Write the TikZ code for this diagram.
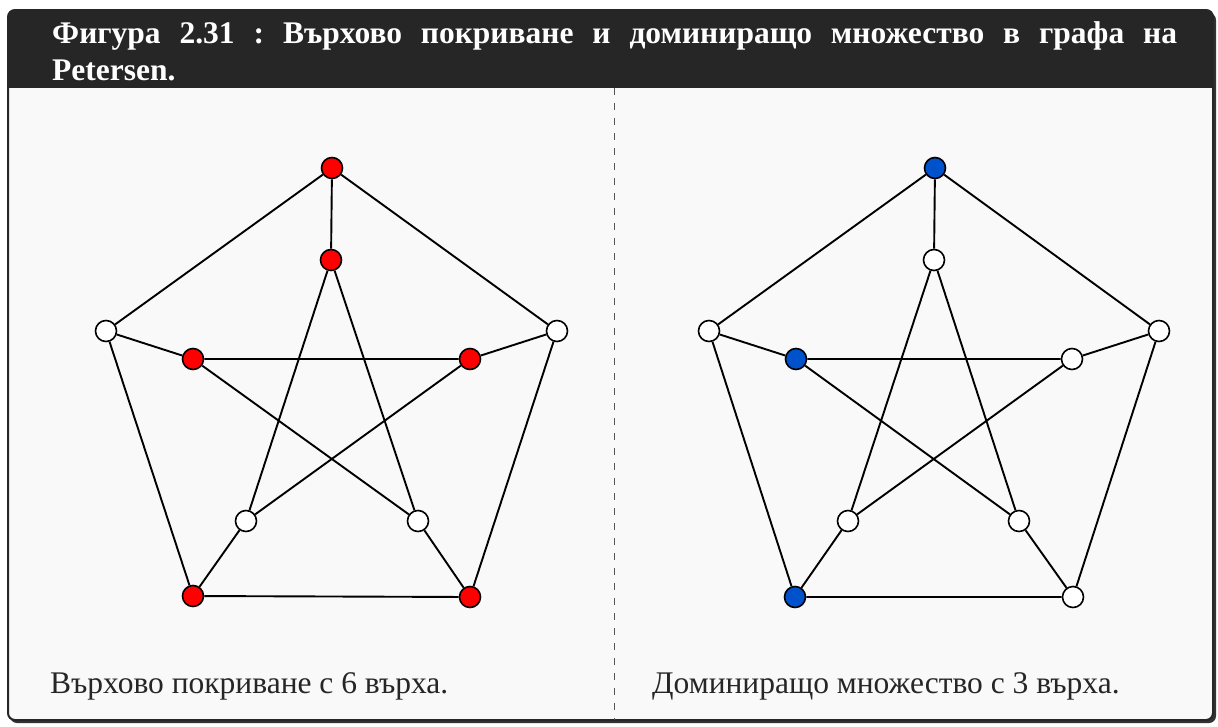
\documentclass[tikz,border=0pt]{standalone}
\usepackage{fontspec}
\setmainfont{Liberation Serif}
\definecolor{titlebg}{HTML}{262626}
\definecolor{bodybg}{HTML}{F9F9F9}
\definecolor{nodered}{HTML}{FF0000}
\definecolor{nodeblue}{HTML}{0052CC}
\definecolor{divider}{HTML}{555555}
\tikzset{
  vtx/.style={circle, draw=black, line width=1.6pt, minimum size=21pt, inner sep=0pt, fill=white},
  redv/.style={vtx, fill=nodered},
  bluev/.style={vtx, fill=nodeblue},
  edge/.style={draw=black, line width=1.9pt},
  titletext/.style={anchor=base west, inner sep=0pt, text=white, font=\fontsize{31.5}{38}\selectfont\bfseries},
  captext/.style={anchor=base west, inner sep=0pt, text=black!85, font=\fontsize{31.5}{38}\selectfont},
}
\begin{document}
\frenchspacing
\begin{tikzpicture}[x=1pt,y=-1pt]
\useasboundingbox (0,0) rectangle (1218,726);
% shadow
\fill[black!80, rounded corners=7pt] (10,13) rectangle (1216,723);
% box
\fill[bodybg, rounded corners=7pt] (8,10) rectangle (1213,720);
\begin{scope}
  \clip[rounded corners=7pt] (8,10) rectangle (1213,720);
  \fill[titlebg] (8,10) rectangle (1213,88);
\end{scope}
\draw[titlebg, line width=2pt, rounded corners=7pt] (8,10) rectangle (1213,720);
% title
\node[titletext] (t1) at (52,43) {\makebox[1125pt][s]{Фигура 2.31 : Върхово покриване и доминиращо множество в графа на}};
\node[titletext] (t2) at (52,80) {Petersen.};
% divider
\coordinate (dtop) at (614,88);
\coordinate (dbot) at (614,720);
\draw[divider, line width=1pt, dash pattern=on 7pt off 8pt] (dtop) -- (dbot);
% left graph
\node[redv] (a1) at (332,168) {};
\node[vtx]  (a2) at (557,331) {};
\node[redv] (a3) at (470,597) {};
\node[redv] (a4) at (193,596) {};
\node[vtx]  (a5) at (106,331) {};
\node[redv] (b1) at (331,260) {};
\node[redv] (b2) at (470,359) {};
\node[vtx]  (b3) at (418,521) {};
\node[vtx]  (b4) at (246,521) {};
\node[redv] (b5) at (193,359) {};
\draw[edge] (a1) -- (a2) (a2) -- (a3) (a3) -- (a4) (a4) -- (a5) (a5) -- (a1);
\draw[edge] (a1) -- (b1) (a2) -- (b2) (a3) -- (b3) (a4) -- (b4) (a5) -- (b5);
\draw[edge] (b1) -- (b3) (b3) -- (b5) (b5) -- (b2) (b2) -- (b4) (b4) -- (b1);
% right graph
\node[bluev] (c1) at (935,168) {};
\node[vtx]   (c2) at (1159,331) {};
\node[vtx]   (c3) at (1073,597) {};
\node[bluev] (c4) at (795,597) {};
\node[vtx]   (c5) at (709,331) {};
\node[vtx]   (d1) at (934,260) {};
\node[vtx]   (d2) at (1072,359) {};
\node[vtx]   (d3) at (1019,521) {};
\node[vtx]   (d4) at (848,521) {};
\node[bluev] (d5) at (796,359) {};
\draw[edge] (c1) -- (c2) (c2) -- (c3) (c3) -- (c4) (c4) -- (c5) (c5) -- (c1);
\draw[edge] (c1) -- (d1) (c2) -- (d2) (c3) -- (d3) (c4) -- (d4) (c5) -- (d5);
\draw[edge] (d1) -- (d3) (d3) -- (d5) (d5) -- (d2) (d2) -- (d4) (d4) -- (d1);
% captions
\node[captext] (capL) at (50,693) {Върхово покриване с 6 върха.};
\node[captext] (capR) at (652,693) {Доминиращо множество с 3 върха.};
\end{tikzpicture}
\end{document}
